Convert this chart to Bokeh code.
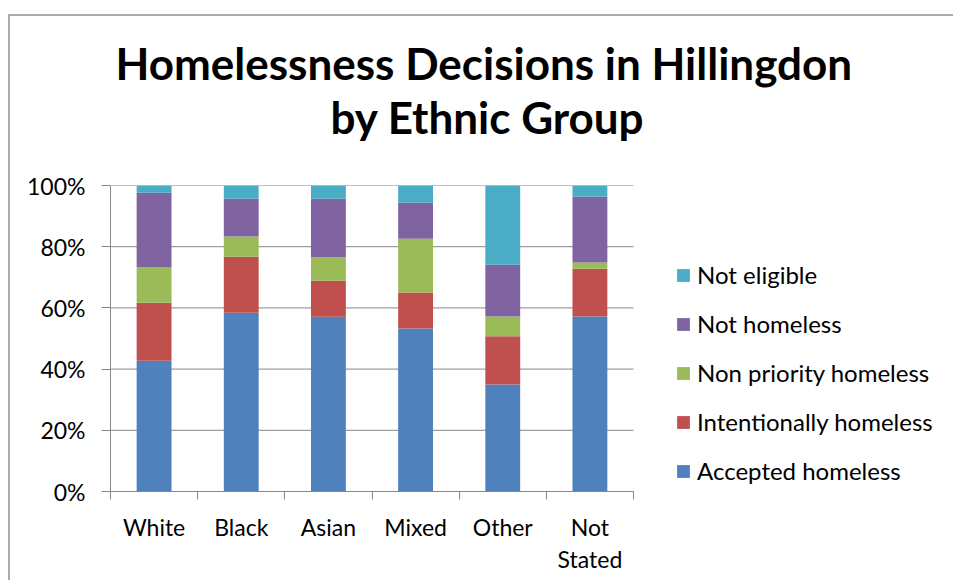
from bokeh.plotting import figure
from bokeh.models import (Range1d, FixedTicker, NumeralTickFormatter, Title, Legend, LegendItem)
from bokeh.embed import file_html
from bokeh.resources import INLINE

# ---- data (shares) ----
groups = ["White", "Black", "Asian", "Mixed", "Other", "Not Stated"]
group_labels = ["White", "Black", "Asian", "Mixed", "Other", "Not\nStated"]
series = ["Accepted homeless", "Intentionally homeless", "Non priority homeless",
          "Not homeless", "Not eligible"]
accepted = [0.427, 0.584, 0.571, 0.533, 0.350, 0.572]
intentional = [0.190, 0.183, 0.118, 0.117, 0.157, 0.156]
non_priority = [0.117, 0.066, 0.077, 0.176, 0.065, 0.020]
not_homeless = [0.242, 0.124, 0.191, 0.118, 0.169, 0.215]
not_eligible = [0.024, 0.043, 0.043, 0.056, 0.259, 0.037]
y_ticks = [0, 0.2, 0.4, 0.6, 0.8, 1.0]

colors = ["#4F81BD", "#C0504D", "#9BBB59", "#8064A2", "#4BACC6"]
FONT = "Lato"
GRAY = "#868686"
LABEL_SIZE = "23px"

n = len(groups)
x_pos = [i + 0.5 for i in range(n)]
data = {"x": x_pos}
for name, vals in zip(series, [accepted, intentional, non_priority, not_homeless, not_eligible]):
    data[name] = vals

# plot frame: the category area is 523 px wide; the frame continues to the right
# (without grid/axis) so that the legend can sit inside it
FRAME_W = 840
x_end = n * FRAME_W / 523.0

p = figure(width=945, height=566, output_backend="svg", toolbar_location=None,
           x_range=Range1d(0, x_end), y_range=Range1d(0, 1),
           min_border_left=100, min_border_right=945 - 100 - FRAME_W, min_border_top=169,
           min_border_bottom=91, title=None)
p.margin = (16, 0, 0, 10)
p.styles = {"box-shadow": "-2px -2px 0 0 #ababab"}
p.outline_line_color = None
p.background_fill_color = "white"
p.border_fill_color = "white"

# horizontal gridlines limited to the category area
p.segment(x0=[0] * len(y_ticks), x1=[n] * len(y_ticks), y0=y_ticks, y1=y_ticks,
          line_color=GRAY, line_width=1)

renderers = p.vbar_stack(series, x="x", width=0.4, color=colors, line_color=None, source=data)

# axes
xa = p.xaxis[0]
xa.bounds = (0, n)
xa.ticker = FixedTicker(ticks=x_pos, minor_ticks=list(range(n + 1)))
xa.major_label_overrides = {x: lab for x, lab in zip(x_pos, group_labels)}
xa.major_tick_out = 0
xa.major_tick_in = 0
xa.minor_tick_out = 8
xa.minor_tick_in = 0
xa.minor_tick_line_color = GRAY
xa.axis_line_color = GRAY
xa.major_label_text_font = FONT
xa.major_label_text_font_size = LABEL_SIZE
xa.major_label_text_color = "black"
xa.major_label_standoff = 13
xa.major_label_text_line_height = 1.15

ya = p.yaxis[0]
ya.ticker = FixedTicker(ticks=y_ticks)
ya.formatter = NumeralTickFormatter(format="0%")
ya.minor_tick_line_color = None
ya.major_tick_out = 9
ya.major_tick_in = 0
ya.major_tick_line_color = GRAY
ya.axis_line_color = GRAY
ya.major_label_text_font = FONT
ya.major_label_text_font_size = LABEL_SIZE
ya.major_label_text_color = "black"
ya.major_label_standoff = 16

p.xgrid.grid_line_color = None
p.ygrid.grid_line_color = None

# title (two lines), with a spacer between the title and the plot
spacer = Title(text=" ", text_font_size="1px", standoff=39)
t2 = Title(text="by Ethnic Group", align="left", offset=220, text_font=FONT,
           text_font_size="44px", text_font_style="bold", text_color="black", standoff=1)
t1 = Title(text="Homelessness Decisions in Hillingdon", align="left", offset=5,
           text_font=FONT, text_font_size="44px", text_font_style="bold",
           text_color="black", standoff=0)
p.add_layout(spacer, "above")
p.add_layout(t2, "above")
p.add_layout(t1, "above")

# legend
items = [LegendItem(label=s, renderers=[r]) for s, r in zip(series, renderers)][::-1]
legend = Legend(items=items, location=(565, 6), glyph_width=16, glyph_height=16,
                label_standoff=6, spacing=20, padding=0, margin=0,
                border_line_color=None, background_fill_alpha=0,
                label_text_font=FONT, label_text_font_size="24px", label_text_color="black")
p.add_layout(legend, "center")

open("out.html", "w").write(file_html(p, INLINE))
